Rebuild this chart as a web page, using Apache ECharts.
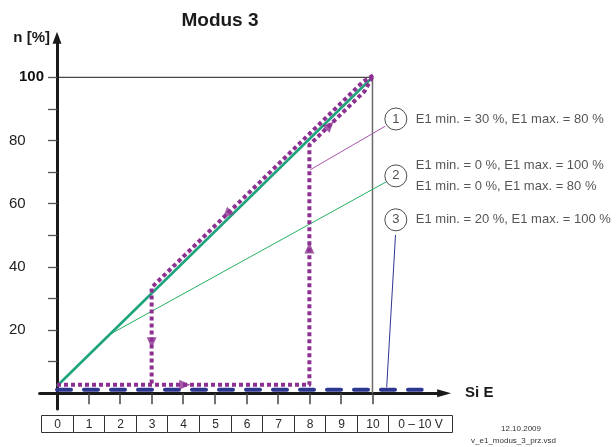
<!DOCTYPE html>
<html>
<head>
<meta charset="utf-8">
<script src="https://cdn.jsdelivr.net/npm/echarts@6/dist/echarts.min.js"></script>
<style>
  html, body { margin: 0; padding: 0; background: #fff; }
  #chart { width: 616px; height: 447px; }
</style>
</head>
<body>
<div id="chart"></div>
<script>
// Input voltage ticks and the scale row underneath the axis
const voltTicks = [0, 1, 2, 3, 4, 5, 6, 7, 8, 9, 10];
const scaleLabels = ['0', '1', '2', '3', '4', '5', '6', '7', '8', '9', '10', '0 \u2013 10 V'];
const speedTicks = [10, 20, 30, 40, 50, 60, 70, 80, 90, 100];
const speedLabels = [20, 40, 60, 80];
const speedTopLabel = [100];

// Curve 2: E1 min. = 0 %, E1 max. = 100 %  and the branch for E1 max. = 80 %
const curve2Full = [[0, 2.3], [10, 100]];
const curve2Branch = [[1.63, 18.4], [10.45, 67]];

// Curve 1: hysteresis loop, E1 min. = 30 %, E1 max. = 80 %
const curve1Rise = [[0, 2.7], [8, 2.7], [8, 78.6], [9.75, 95.6], [10.02, 100.6]];
const curve1Fall = [[10.02, 100.6], [9.7, 98.6], [3, 33.5], [3, 2.7]];
const curve1Arrows = [[4.05, 2.7], [3, 16], [8, 46], [8.65, 84.8], [5.38, 56.7]];
const curve1ArrowAngles = [-90, 180, 0, -45, 135];
const curve1Leader = [[8.02, 70.7], [10.4, 84.5]];

// Curve 3: E1 min. = 20 %, E1 max. = 100 %
const curve3 = [[0, 1.1], [11.56, 1.1]];
const curve3Leader = [[10.45, 1.9], [10.73, 50.1]];

// Frame lines at 100 % and 10 V
const frameTop = [[0, 100], [10, 100]];
const frameRight = [[10, 100], [10, 0]];

// Numbered callouts and their descriptions
const calloutPoints = [[10.74, 86.8], [10.74, 68.8], [10.74, 54.9]];
const calloutNumbers = ['1', '2', '3'];
const calloutTexts = [
  'E1 min. = 30 %, E1 max. = 80 %',
  'E1 min. = 0 %, E1 max. = 100 %\nE1 min. = 0 %, E1 max. = 80 %',
  'E1 min. = 20 %, E1 max. = 100 %'
];

// ---- layout ----
const FONT = '"Liberation Sans", Arial, Helvetica, sans-serif';
const X_MIN = -0.55, X_MAX = 12.27, Y_MIN = -5, Y_MAX = 112.5;
const GRID_LEFT = 39.65, GRID_RIGHT = 171.9;
const ORIGIN_SHIFT = 17.35;           // distance from grid left edge to the 0 V line
const SCALE_LAST_END = 12.52;
const BOX_TOP = 415, BOX_H = 17;
const PURPLE = '#8c3191', GREEN = '#1fa37c', BLUE = '#2e3790';

const chart = echarts.init(document.getElementById('chart'), null, { renderer: 'canvas' });

function lineSeries(data, style, z) {
  return {
    type: 'line', data: data, symbol: 'none', clip: false, silent: true,
    lineStyle: style, z: z || 2, animation: false
  };
}

const option = {
  animation: false,
  backgroundColor: '#ffffff',
  grid: { left: GRID_LEFT, right: GRID_RIGHT, top: 37.8, bottom: 37.9, containLabel: false, outerBoundsMode: 'none' },
  xAxis: {
    type: 'value', min: X_MIN, max: X_MAX,
    name: 'Si E', nameLocation: 'end', nameGap: 21,
    nameTextStyle: { fontFamily: FONT, fontSize: 15, fontWeight: 'bold', color: '#1a1a1a', verticalAlign: 'middle' },
    axisLine: { show: true, onZero: true, symbol: ['none', 'triangle'], symbolSize: [8, 14],
      lineStyle: { color: '#1a1a1a', width: 3 } },
    axisTick: { show: true, customValues: voltTicks.slice(1), length: 11, lineStyle: { color: '#444', width: 1.5 } },
    axisLabel: { show: false },
    splitLine: { show: false }
  },
  yAxis: [
    {
      type: 'value', min: Y_MIN, max: Y_MAX,
      name: 'n [%]', nameLocation: 'end', nameGap: 0, nameMoveOverlap: false,
      nameTextStyle: { fontFamily: FONT, fontSize: 15, fontWeight: 'bold', color: '#1a1a1a',
        align: 'right', verticalAlign: 'middle', padding: [0, 7, 0, 0] },
      axisLine: { show: true, onZero: true, symbol: ['none', 'triangle'], symbolSize: [9, 12],
        lineStyle: { color: '#1a1a1a', width: 3 } },
      axisTick: { show: true, customValues: speedTicks, length: 9, lineStyle: { color: '#555', width: 1.3 } },
      axisLabel: { show: true, customValues: speedLabels, margin: 14,
        fontFamily: FONT, fontSize: 15, color: '#222' },
      splitLine: { show: false }
    },
    {
      // bold label for the 100 % level, aligned with the 0 V line
      type: 'value', min: Y_MIN, max: Y_MAX, position: 'left', offset: -ORIGIN_SHIFT,
      axisLine: { show: false, onZero: false },
      axisTick: { show: false },
      axisLabel: { show: true, customValues: speedTopLabel, margin: 13,
        fontFamily: FONT, fontSize: 15, fontWeight: 'bold', color: '#111' },
      splitLine: { show: false }
    }
  ],
  graphic: [
    { type: 'text', x: 220, y: 21, style: { text: 'Modus 3', font: 'bold 19px ' + FONT, fill: '#1a1a1a', align: 'center', verticalAlign: 'middle' } },
    { type: 'text', x: 521, y: 429, style: { text: '12.10.2009', font: '8px ' + FONT, fill: '#333', align: 'center', verticalAlign: 'middle' } },
    { type: 'text', x: 513.5, y: 441, style: { text: 'v_e1_modus_3_prz.vsd', font: '8px ' + FONT, fill: '#333', align: 'center', verticalAlign: 'middle' } }
  ],
  series: [
    lineSeries(frameTop, { color: '#1a1a1a', width: 1 }, 1),
    lineSeries(frameRight, { color: '#6b6b6b', width: 1.5 }, 1),
    lineSeries(curve3Leader, { color: BLUE, width: 1 }, 2),
    lineSeries(curve1Leader, { color: '#a955ae', width: 1 }, 2),
    lineSeries(curve2Branch, { color: '#23b060', width: 1 }, 2),
    lineSeries(curve2Full, { color: GREEN, width: 2.6 }, 3),
    lineSeries(curve3, { color: BLUE, width: 4, type: [14, 13], cap: 'round' }, 3),
    lineSeries(curve1Rise, { color: PURPLE, width: 4, type: [4, 3], cap: 'butt', join: 'round' }, 4),
    lineSeries(curve1Fall, { color: PURPLE, width: 4, type: [4, 3], cap: 'butt', join: 'round' }, 4),
    {
      type: 'scatter', clip: false, silent: true, z: 5,
      data: curve1Arrows.map(function (p, i) { return { value: p, symbolRotate: curve1ArrowAngles[i] }; }),
      symbol: 'triangle', symbolSize: [10, 11],
      itemStyle: { color: PURPLE }
    },
    {
      type: 'scatter', clip: false, silent: true, z: 5,
      data: calloutPoints.map(function (p, i) { return { value: p, name: calloutNumbers[i] }; }),
      symbol: 'circle', symbolSize: 22,
      itemStyle: { color: '#ffffff', borderColor: '#222', borderWidth: 1 },
      label: { show: true, position: 'inside', formatter: '{b}', fontFamily: FONT, fontSize: 13, color: '#222' }
    },
    {
      type: 'scatter', clip: false, silent: true, z: 5,
      data: calloutPoints.map(function (p, i) { return { value: p, name: calloutTexts[i] }; }),
      symbol: 'circle', symbolSize: 22,
      itemStyle: { color: 'rgba(0,0,0,0)' },
      label: { show: true, position: 'right', distance: 9, formatter: '{b}', fontFamily: FONT, fontSize: 13,
        lineHeight: 20.6, color: '#2a2a2a', align: 'left' }
    },
    {
      type: 'custom', coordinateSystem: 'cartesian2d', silent: true, clip: false, z: 6,
      data: scaleLabels.map(function (_, i) { return [i, 0]; }),
      renderItem: function (params, api) {
        const i = params.dataIndex;
        const from = i - 0.5;
        const to = i < voltTicks.length ? i + 0.5 : SCALE_LAST_END;
        const x0 = Math.round(api.coord([from, 0])[0]) + 0.5;
        const x1 = Math.round(api.coord([to, 0])[0]) + 0.5;
        return {
          type: 'group',
          children: [
            { type: 'rect', shape: { x: x0, y: BOX_TOP + 0.5, width: x1 - x0, height: BOX_H },
              style: { fill: '#fff', stroke: '#333', lineWidth: 1 } },
            { type: 'text', x: (x0 + x1) / 2, y: BOX_TOP + BOX_H / 2 + 1,
              style: { text: scaleLabels[i], font: '12px ' + FONT, fill: '#2a2a2a', align: 'center', verticalAlign: 'middle' } }
          ]
        };
      }
    }
  ]
};

chart.setOption(option);
</script>
</body>
</html>
